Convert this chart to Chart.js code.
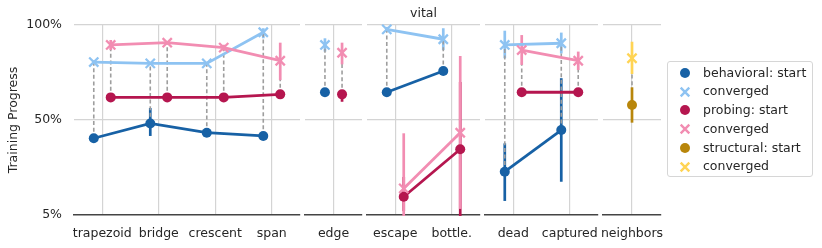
<!DOCTYPE html>
<html>
<head>
<meta charset="utf-8">
<script src="https://cdn.jsdelivr.net/npm/chart.js@4.4.1/dist/chart.umd.min.js"></script>
<style>
    html, body { margin: 0; padding: 0; background: #ffffff; }
    #wrap { position: relative; width: 822px; height: 248px; overflow: hidden; font-family: "DejaVu Sans", sans-serif; }
    #wrap canvas { position: absolute; left: 0; top: 0; }
    #legend {
        position: absolute; left: 667px; top: 61px; width: 146px; height: 116px;
        box-sizing: border-box; border: 1px solid #d6d6d6; border-radius: 3px;
        padding-top: 1.5px; background: rgba(255,255,255,0.8);
    }
    .item { position: relative; height: 18.8px; line-height: 18.8px; font-size: 12.5px; color: #262626; white-space: nowrap; }
    .item svg { position: absolute; left: 11px; top: 3.4px; }
    .item span { position: absolute; left: 35px; top: 0; }
</style>
</head>
<body>
<div id="wrap">
    <canvas id="p0" width="822" height="248"></canvas>
    <canvas id="p1" width="822" height="248"></canvas>
    <canvas id="p2" width="822" height="248"></canvas>
    <canvas id="p3" width="822" height="248"></canvas>
    <canvas id="p4" width="822" height="248"></canvas>
    <div id="legend"></div>
</div>
<script>
// Axis ticks
const yTickValues = [0, 50, 100];
const yTickLabels = ['5%', '50%', '100%'];

// One list of categories per panel
const categories = [
    ['trapezoid', 'bridge', 'crescent', 'span'],
    ['edge'],
    ['escape', 'bottle.'],
    ['dead', 'captured'],
    ['neighbors']
];

// behavioral: start of training / converged (value, low, high)
const behavioralStart     = [[40.4, 48.2, 43.3, 41.6], [64.6], [64.6, 75.8], [22.8, 44.7], []];
const behavioralStartLow  = [[39.6, 41.6, 42.5, 40.6], [64.0], [64.0, 75.0], [7.4, 17.5], []];
const behavioralStartHigh = [[41.2, 56.3, 44.1, 42.6], [65.2], [65.2, 76.6], [37.7, 72.0], []];
const behavioralConv      = [[80.5, 79.8, 79.8, 96.2], [89.5], [97.7, 92.5], [89.5, 90.4], []];
const behavioralConvLow   = [[79.6, 79.0, 79.0, 93.0], [86.0], [96.5, 86.8], [82.5, 85.0], []];
const behavioralConvHigh  = [[81.4, 80.6, 80.6, 98.3], [93.0], [99.0, 98.3], [97.0, 96.0], []];

// probing: start of training / converged
const probingStart     = [[61.9, 61.9, 61.9, 63.5], [63.5], [9.6, 34.6], [64.6, 64.6], []];
const probingStartLow  = [[61.3, 61.3, 61.3, 62.8], [59.6], [2.0, -10.0], [64.0, 64.0], []];
const probingStartHigh = [[62.5, 62.5, 62.5, 64.2], [65.8], [20.0, 70.0], [65.2, 65.2], []];
const probingConv      = [[89.5, 90.7, 88.1, 81.2], [85.4], [14.0, 43.3], [86.8, 81.2], []];
const probingConvLow   = [[86.8, 89.8, 86.5, 71.0], [79.3], [-10.0, 3.2], [79.0, 76.3], []];
const probingConvHigh  = [[92.1, 91.6, 89.6, 90.7], [90.7], [43.0, 83.7], [94.7, 86.0], []];

// structural: start of training / converged
const structuralStart     = [[], [], [], [], [57.9]];
const structuralStartLow  = [[], [], [], [], [48.6]];
const structuralStartHigh = [[], [], [], [], [67.2]];
const structuralConv      = [[], [], [], [], [82.5]];
const structuralConvLow   = [[], [], [], [], [74.2]];
const structuralConvHigh  = [[], [], [], [], [91.2]];

const legendLabels = ['behavioral: start', 'converged', 'probing: start', 'converged', 'structural: start', 'converged'];

// Colours
const colors = {
    behavioralStart: '#1761a5',
    behavioralConv: '#8ec3f2',
    probingStart: '#b5164f',
    probingConv: '#f28db2',
    structuralStart: '#b8860b',
    structuralConv: '#ffd454'
};

// Layout of the panels (pixels)
const panelLeft = [74, 305, 367, 485, 603];
const panelRight = [300, 362, 480, 598, 661];
const FONT = { family: '"DejaVu Sans", sans-serif', size: 12.5 };
const TEXT = '#262626';

const groups = [
    { name: 'behavioral', offset: -0.15,
      start: [behavioralStart, behavioralStartLow, behavioralStartHigh, colors.behavioralStart],
      conv: [behavioralConv, behavioralConvLow, behavioralConvHigh, colors.behavioralConv] },
    { name: 'probing', offset: 0.15,
      start: [probingStart, probingStartLow, probingStartHigh, colors.probingStart],
      conv: [probingConv, probingConvLow, probingConvHigh, colors.probingConv] },
    { name: 'structural', offset: 0,
      start: [structuralStart, structuralStartLow, structuralStartHigh, colors.structuralStart],
      conv: [structuralConv, structuralConvLow, structuralConvHigh, colors.structuralConv] }
];

/**
 * Error bars and dashed start->converged connectors, drawn under the markers
 */
const errorBars = {
    id: 'errorBars',
    beforeDatasetsDraw(chart) {
        const { ctx, chartArea, scales: { x, y } } = chart;
        const p = chart.options.panelIndex;
        ctx.save();
        ctx.beginPath();
        ctx.rect(chartArea.left - 5, chartArea.top - 20, chartArea.width + 10, chartArea.height + 21);
        ctx.clip();

        const bar = (s, off) => {
            ctx.strokeStyle = s[3];
            ctx.lineWidth = 2.7;
            ctx.setLineDash([]);
            s[0][p].forEach((v, i) => {
                const px = x.getPixelForValue(i + off);
                ctx.beginPath();
                ctx.moveTo(px, y.getPixelForValue(s[1][p][i]));
                ctx.lineTo(px, y.getPixelForValue(s[2][p][i]));
                ctx.stroke();
            });
        };
        const dashes = (g) => {
            ctx.strokeStyle = '#9e9e9e';
            ctx.lineWidth = 1.6;
            ctx.setLineDash([4, 2.6]);
            g.start[0][p].forEach((v, i) => {
                const px = x.getPixelForValue(i + g.offset);
                ctx.beginPath();
                ctx.moveTo(px, y.getPixelForValue(v));
                ctx.lineTo(px, y.getPixelForValue(g.conv[0][p][i]));
                ctx.stroke();
            });
        };

        // behavioral bars sit under the connectors, the other groups above them
        const [beh, ...rest] = groups;
        bar(beh.start, beh.offset);
        bar(beh.conv, beh.offset);
        groups.forEach(dashes);
        rest.forEach(g => {
            bar(g.start, g.offset);
            bar(g.conv, g.offset);
        });
        ctx.restore();
    }
};

function buildDatasets(p) {
    const datasets = [];
    let order = 10;
    groups.forEach(g => {
        if (!g.start[0][p].length) return;
        [['start', g.start], ['conv', g.conv]].forEach(([kind, s]) => {
            datasets.push({
                label: g.name + ' ' + kind,
                data: s[0][p].map((v, i) => ({ x: i + g.offset, y: v })),
                borderColor: s[3],
                backgroundColor: s[3],
                borderWidth: 2.8,
                tension: 0,
                clip: false,
                order: order--,
                pointStyle: kind === 'start' ? 'circle' : 'crossRot',
                pointRadius: kind === 'start' ? 5 : 6.5,
                pointBorderWidth: kind === 'start' ? 0 : 2.3,
                pointBackgroundColor: s[3],
                pointBorderColor: s[3]
            });
        });
    });
    return datasets;
}

function createPanel(p) {
    const cats = categories[p];
    const first = p === 0;
    return new Chart(document.getElementById('p' + p), {
        type: 'line',
        data: { datasets: buildDatasets(p) },
        plugins: [errorBars],
        options: {
            panelIndex: p,
            responsive: false,
            animation: false,
            events: [],
            layout: {
                padding: { left: first ? 0 : panelLeft[p], right: 822 - panelRight[p], top: p === 2 ? 0 : 25, bottom: 0 }
            },
            plugins: {
                legend: { display: false },
                tooltip: { enabled: false },
                title: {
                    display: p === 2,
                    text: 'vital',
                    color: TEXT,
                    font: { ...FONT, weight: 'normal' },
                    padding: { top: 6, bottom: 4 }
                }
            },
            scales: {
                x: {
                    type: 'linear',
                    min: -0.5,
                    max: cats.length - 0.5,
                    afterBuildTicks: s => { s.ticks = cats.map((c, i) => ({ value: i })); },
                    afterFit: s => { s.height = 33; },
                    ticks: { callback: v => cats[v], color: TEXT, font: FONT, padding: 11.5, maxRotation: 0, autoSkip: false },
                    grid: { color: '#d4d4d4', lineWidth: 1.2, drawTicks: false },
                    border: { display: true, color: '#444444', width: 1.5 }
                },
                y: {
                    min: 0,
                    max: 100,
                    afterBuildTicks: s => { s.ticks = yTickValues.map(v => ({ value: v })); },
                    afterFit: s => { s.width = first ? 74 : 0; },
                    ticks: {
                        display: first,
                        callback: v => yTickLabels[yTickValues.indexOf(v)],
                        color: TEXT, font: FONT, padding: 12
                    },
                    grid: {
                        color: c => c.tick && c.tick.value === 0 ? 'rgba(0,0,0,0)' : '#d4d4d4',
                        lineWidth: 1.2,
                        drawTicks: false
                    },
                    border: { display: false },
                    title: {
                        display: first,
                        text: 'Training Progress',
                        color: TEXT,
                        font: FONT,
                        padding: { top: 6.5, bottom: 0 }
                    }
                }
            }
        }
    });
}

categories.forEach((c, p) => createPanel(p));

// Legend (HTML) built from the same labels and colours
function buildLegend() {
    const box = document.getElementById('legend');
    const legendColors = [colors.behavioralStart, colors.behavioralConv, colors.probingStart,
        colors.probingConv, colors.structuralStart, colors.structuralConv];
    legendLabels.forEach((label, i) => {
        const row = document.createElement('div');
        row.className = 'item';
        const col = legendColors[i];
        const marker = i % 2 === 0
            ? `<circle cx="6" cy="6" r="5" fill="${col}"/>`
            : `<path d="M1.7 1.7 L10.3 10.3 M10.3 1.7 L1.7 10.3" stroke="${col}" stroke-width="2.4"/>`;
        row.innerHTML = `<svg width="12" height="12" viewBox="0 0 12 12">${marker}</svg><span>${label}</span>`;
        box.appendChild(row);
    });
}
buildLegend();
</script>
</body>
</html>
